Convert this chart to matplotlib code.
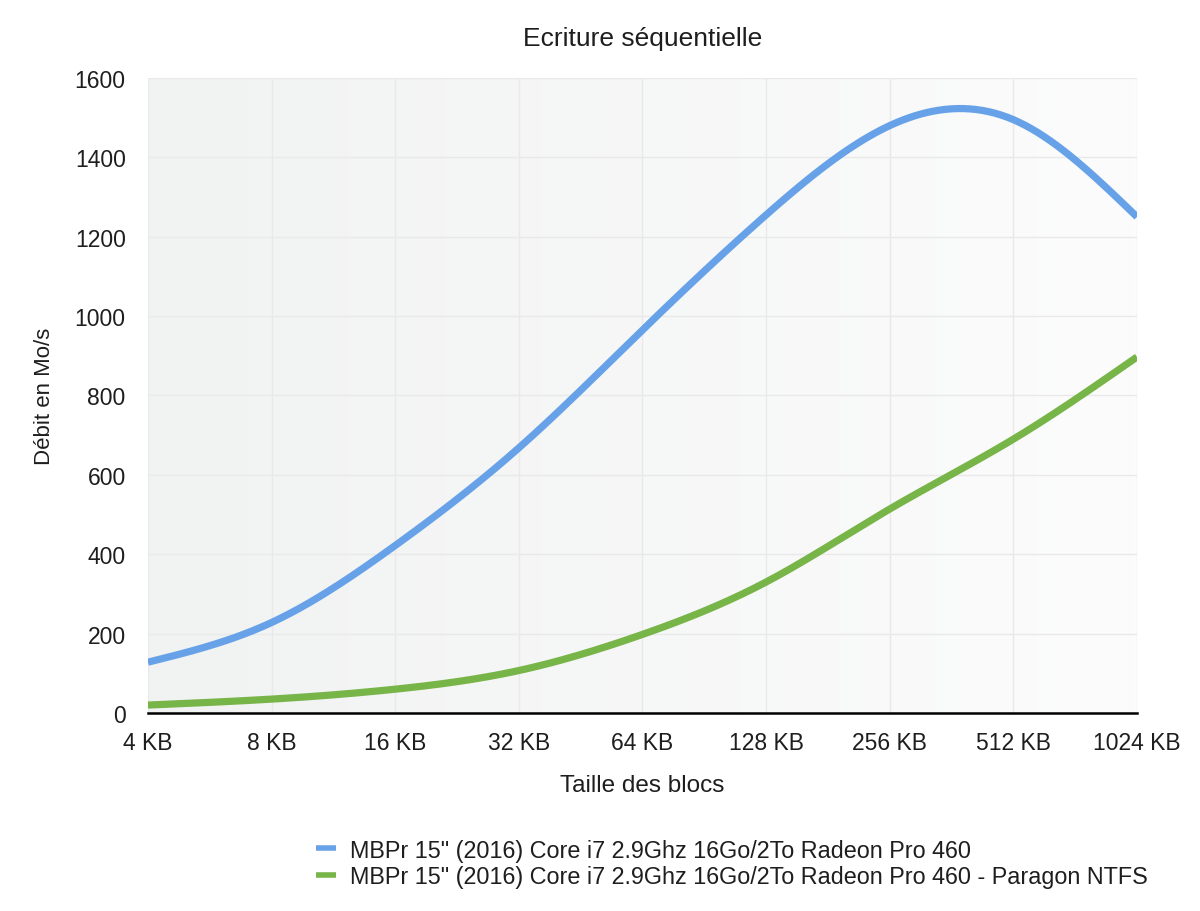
import numpy as np
import matplotlib.pyplot as plt
from matplotlib.colors import LinearSegmentedColormap

plt.rcParams['font.family'] = ['Liberation Sans', 'DejaVu Sans']

blocks = ['4 KB', '8 KB', '16 KB', '32 KB', '64 KB', '128 KB', '256 KB', '512 KB', '1024 KB']
native = [128, 228, 422, 668, 965, 1255, 1480, 1495, 1250]
paragon = [20, 35, 60, 107, 198, 330, 514, 690, 897]
labels = ['MBPr 15" (2016) Core i7 2.9Ghz 16Go/2To Radeon Pro 460',
          'MBPr 15" (2016) Core i7 2.9Ghz 16Go/2To Radeon Pro 460 - Paragon NTFS']
colors = ['#67a2e9', '#78b548']
txt = '#1e1e1e'


def smooth(ys, n=40):
    # natural cubic spline through the points, for drawing only
    y = np.asarray(ys, dtype=float)
    m = len(y)
    A = np.zeros((m, m))
    b = np.zeros(m)
    A[0, 0] = A[-1, -1] = 1
    for i in range(1, m - 1):
        A[i, i - 1], A[i, i], A[i, i + 1] = 1, 4, 1
        b[i] = 6 * (y[i + 1] - 2 * y[i] + y[i - 1])
    M = np.linalg.solve(A, b)
    xs = np.linspace(0, m - 1, n * (m - 1) + 1)
    k = np.minimum(xs.astype(int), m - 2)
    t = xs - k
    out = ((1 - t) * y[k] + t * y[k + 1]
           + ((1 - t) ** 3 - (1 - t)) * M[k] / 6 + (t ** 3 - t) * M[k + 1] / 6)
    return xs, out


fig = plt.figure(figsize=(12, 9.12), dpi=100)
ax = fig.add_axes([0.1233, 0.2171, 0.8242, 0.6963])

# light gradient background
cmap = LinearSegmentedColormap.from_list('bg', ['#f1f2f2', '#fcfcfc'])
ax.imshow(np.linspace(0, 1, 256).reshape(1, -1), cmap=cmap, aspect='auto',
          extent=[0, len(blocks) - 1, 0, 1600], zorder=0)

for ys, lab, c in zip([native, paragon], labels, colors):
    sx, sy = smooth(ys)
    ax.plot(sx, sy, color=c, lw=5.2, label=lab, solid_capstyle='butt', zorder=3)

ax.set_xlim(0, len(blocks) - 1)
ax.set_ylim(0, 1600)
ax.set_xticks(range(len(blocks)))
ax.set_xticklabels(blocks)
ax.set_yticks(range(0, 1601, 200))
ax.grid(color='#e9e9e9', lw=1)
ax.set_axisbelow(True)
for s in ['top', 'right', 'left']:
    ax.spines[s].set_visible(False)
ax.spines['bottom'].set_linewidth(1.8)
ax.tick_params(length=0, labelsize=16.5, colors=txt, pad=13)
ax.tick_params(axis='y', pad=16)

ax.set_title('Ecriture séquentielle', fontsize=19, pad=24, color=txt)
ax.set_xlabel('Taille des blocs', fontsize=17.5, labelpad=14, color=txt)
ax.set_ylabel('Débit en Mo/s', fontsize=16, labelpad=14, color=txt)

leg = fig.legend(loc='upper left', bbox_to_anchor=(0.246, 0.1025), frameon=False,
                 fontsize=16.8, handlelength=0.85, handletextpad=0.6, labelspacing=0.15)
for h in leg.legend_handles:
    h.set_linewidth(4)
for t in leg.get_texts():
    t.set_color(txt)

fig.savefig('out.png', dpi=100)
